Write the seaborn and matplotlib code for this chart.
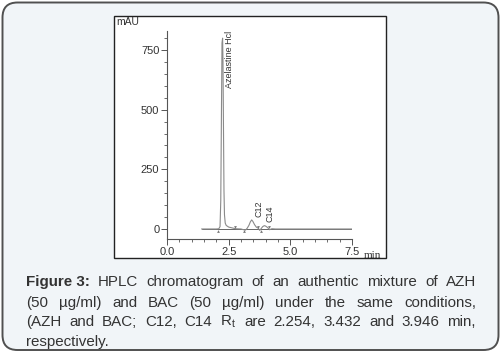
import matplotlib
matplotlib.use("Agg")
import matplotlib.pyplot as plt
import seaborn as sns
import pandas as pd
import numpy as np
from matplotlib.patches import FancyBboxPatch, Rectangle
from matplotlib.ticker import MultipleLocator

# ---- data ----
time_min = [1.40, 2.00, 2.10, 2.15, 2.18, 2.21, 2.23, 2.254, 2.27, 2.29, 2.31, 2.33, 2.36, 2.40,
            2.50, 2.70, 2.80, 3.00, 3.10, 3.18, 3.25, 3.32, 3.38, 3.432, 3.48, 3.55, 3.62, 3.70,
            3.76, 3.82, 3.88, 3.946, 4.00, 4.08, 4.16, 4.25, 4.40, 5.00, 6.00, 7.50]
signal_mau = [0, 0, 1, 10, 120, 520, 780, 800, 700, 420, 160, 60, 25, 15,
              8, 3, 1, 0, -3, -5, 3, 15, 30, 38, 32, 18, 8, 3,
              -6, 2, 10, 14, 12, 6, -3, 1, 0, 0, 0, 0]
x_ticks = [0.0, 2.5, 5.0, 7.5]
y_ticks = [0, 250, 500, 750]
peak_labels = ["Azelastine Hcl", "C12", "C14"]
label_x = [2.55, 3.72, 4.18]
label_y = [830, 120, 100]
up_marks = [2.05, 3.13, 3.80]
down_marks = [2.74, 3.70, 4.15]

caption_lines = [
    ["Figure 3:", "HPLC", "chromatogram", "of", "an", "authentic", "mixture", "of", "AZH"],
    ["(50", "µg/ml)", "and", "BAC", "(50", "µg/ml)", "under", "the", "same", "conditions,"],
    ["(AZH", "and", "BAC;", "C12,", "C14", r"R$_\mathregular{t}$", "are", "2.254,", "3.432", "and", "3.946", "min,"],
    ["respectively."],
]

sns.set_style("ticks")
plt.rcParams["font.family"] = ["Liberation Sans", "DejaVu Sans"]
plt.rcParams["mathtext.fontset"] = "custom"
plt.rcParams["mathtext.rm"] = "Liberation Sans"

W, H = 501, 353
fig = plt.figure(figsize=(W / 100, H / 100), dpi=100)
fig.patch.set_facecolor("white")

def fx(px):
    return px / W

def fy(py):
    return 1 - py / H

# outer rounded frame
frame = FancyBboxPatch((fx(2.5), fy(350)), fx(496), 347.5 / H,
                       boxstyle="round,pad=0,rounding_size=0.03",
                       transform=fig.transFigure, facecolor="#f1f5f8",
                       edgecolor="#505050", linewidth=1.4, zorder=0, mutation_aspect=W / H)
fig.patches.append(frame)
# inner image box
box = Rectangle((fx(114), fy(258)), fx(272), 242 / H, transform=fig.transFigure,
                facecolor="white", edgecolor="#222222", linewidth=1.0, zorder=1)
fig.patches.append(box)

# axes
ax = fig.add_axes([fx(167), fy(239), fx(352 - 167), (239 - 31) / H])
ax.set_facecolor("none")
ax.set_zorder(2)
df = pd.DataFrame({"t": time_min, "mAU": signal_mau})
sns.lineplot(data=df, x="t", y="mAU", ax=ax, color="#8a8a8a", linewidth=0.8)
ax.axhline(0, xmin=1.4 / 7.5, xmax=1.0, color="#666666", linewidth=0.7, zorder=1)
ax.set_xlim(0, 7.5)
ax.set_ylim(-42, 830)
ax.set_xticks(x_ticks)
ax.set_yticks(y_ticks)
ax.set_xticklabels([f"{v:.1f}" for v in x_ticks])
ax.set_yticklabels([str(v) for v in y_ticks])
ax.xaxis.set_minor_locator(MultipleLocator(0.5))
ax.yaxis.set_minor_locator(MultipleLocator(50))
ax.set_xlabel("")
ax.set_ylabel("")
for s in ["top", "right"]:
    ax.spines[s].set_visible(False)
for s in ["left", "bottom"]:
    ax.spines[s].set_color("#555555")
    ax.spines[s].set_linewidth(0.8)
ax.tick_params(axis="both", which="major", length=4, width=0.7, color="#555555",
               labelsize=8, labelcolor="#333333", pad=1.5)
ax.tick_params(axis="both", which="minor", length=2.5, width=0.6, color="#555555")

for lab, lx, ly in zip(peak_labels, label_x, label_y):
    ax.text(lx, ly, lab, rotation=90, ha="center", va="top", fontsize=6.5, color="#333333")
ax.scatter(up_marks, [-9] * len(up_marks), marker="^", s=4, color="#777777", linewidths=0, zorder=3)
ax.scatter(down_marks, [9] * len(down_marks), marker="v", s=4, color="#777777", linewidths=0, zorder=3)

fig.text(fx(116), fy(22), "mAU", fontsize=7.5, color="#333333", ha="left", va="center", zorder=3)
fig.text(fx(364), fy(255), "min", fontsize=8, color="#333333", ha="left", va="center",
         family=["Liberation Serif", "DejaVu Serif"], zorder=3)

# caption, justified
renderer = fig.canvas.get_renderer()
x0, x1 = 26, 476
ys = [282, 303, 322, 342]
for li, (words, yy) in enumerate(zip(caption_lines, ys)):
    texts = []
    widths = []
    for wi, w in enumerate(words):
        weight = "bold" if (li == 0 and wi == 0) else "normal"
        t = fig.text(0, fy(yy), w, fontsize=10.9, color="#333333", ha="left", va="center",
                     fontweight=weight, zorder=3)
        texts.append(t)
        widths.append(t.get_window_extent(renderer).width)
    if li < len(caption_lines) - 1 and len(words) > 1:
        gap = (x1 - x0 - sum(widths)) / (len(words) - 1)
    else:
        gap = 3.5
    pos = x0
    for t, wdt in zip(texts, widths):
        t.set_x(fx(pos))
        pos += wdt + gap

fig.savefig("out.png", dpi=100, facecolor=fig.get_facecolor())
